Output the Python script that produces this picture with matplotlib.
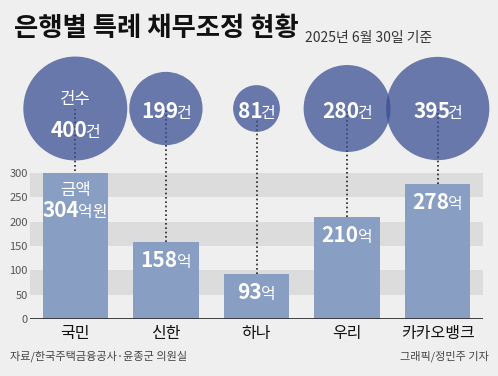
import matplotlib
matplotlib.use("Agg")
import matplotlib.pyplot as plt
from matplotlib.transforms import offset_copy

plt.rcParams["font.family"] = ["Noto Sans CJK KR", "DejaVu Sans"]

banks = ["국민", "신한", "하나", "우리", "카카오뱅크"]
amounts = [304, 158, 93, 210, 278]      # 억원
counts = [400, 199, 81, 280, 395]       # 건
yticks = [0, 50, 100, 150, 200, 250, 300]
bands = [(50, 100), (150, 200), (250, 300)]

BG = "#efefef"
BAND = "#dcdcdc"
BAR = "#889ec2"
BUBBLE = "#3a4e92"
BUBBLE_Y = 432.5      # data units, above the plot area

fig = plt.figure(figsize=(4.98, 3.76), dpi=100, facecolor=BG)
ax = fig.add_axes([30 / 498, 57 / 376, 453 / 498, 146 / 376])
ax.set_facecolor(BG)
for s in ax.spines.values():
    s.set_visible(False)
ax.set_xlim(-0.5, 4.5)
ax.set_ylim(0, 300)

for lo, hi in bands:
    ax.axhspan(lo, hi, color=BAND, lw=0, zorder=0)
ax.axhline(0, color="#333333", lw=1.3, zorder=4)

xs = list(range(len(banks)))
ax.bar(xs, amounts, width=0.72, color=BAR, zorder=2)

# dotted leaders from bar top up to the bubble
for x, v in zip(xs, amounts):
    ax.plot([x, x], [v, BUBBLE_Y], ls=(0, (1, 1.6)), color="#222222",
            lw=1.2, clip_on=False, zorder=1.5)

ax.scatter(xs, [BUBBLE_Y] * len(xs), s=[14 * c for c in counts],
           color=BUBBLE, alpha=0.74, edgecolors="none", clip_on=False,
           zorder=3)

ax.set_yticks(yticks)
ax.set_yticklabels([str(t) for t in yticks], fontsize=8, color="#555555")
ax.set_xticks(xs)
ax.set_xticklabels(banks, fontsize=11.5, color="#111111")
ax.tick_params(axis="y", length=0, pad=1.5)
ax.tick_params(axis="x", length=0, pad=4)

renderer = fig.canvas.get_renderer()


def mixed_text(x, y, parts, dy=0.0, kern=0.0, color="white"):
    """Centre a run of differently sized pieces at (x, y), baseline shifted dy px."""
    texts = []
    for s, size, weight in parts:
        t = ax.text(x, y, s, fontsize=size, fontweight=weight, color=color,
                    ha="left", va="baseline", clip_on=False, zorder=6)
        texts.append(t)
    widths = [t.get_window_extent(renderer).width for t in texts]
    widths = [w + (kern if k < len(widths) - 1 else 0) for k, w in enumerate(widths)]
    x0 = -sum(widths) / 2
    for t, w in zip(texts, widths):
        t.set_transform(offset_copy(ax.transData, fig, x=x0, y=dy, units="dots"))
        x0 += w


# bubble labels
for i, (x, c) in enumerate(zip(xs, counts)):
    if i == 0:
        mixed_text(x, BUBBLE_Y, [("건수", 12, "normal")], dy=5)
        mixed_text(x, BUBBLE_Y, [(str(c), 15, "bold"), ("건", 11.5, "normal")],
                   dy=-28, kern=-3)
    else:
        mixed_text(x, BUBBLE_Y, [(str(c), 15, "bold"), ("건", 11.5, "normal")],
                   dy=-9, kern=-3)

# bar labels
for i, (x, v) in enumerate(zip(xs, amounts)):
    if i == 0:
        mixed_text(x, v, [("금액", 12, "normal")], dy=-24)
        mixed_text(x, v, [(str(v), 15, "bold"), ("억원", 11.5, "normal")],
                   dy=-46, kern=-1)
    else:
        mixed_text(x, v, [(str(v), 15, "bold"), ("억", 11.5, "normal")],
                   dy=-25, kern=-1)

fig.text(14 / 498, 1 - 36 / 376, "은행별 특례 채무조정 현황", fontsize=19,
         fontweight="bold", color="#111111", ha="left", va="baseline")
fig.text(305 / 498, 1 - 42 / 376, "2025년 6월 30일 기준", fontsize=10,
         color="#333333", ha="left", va="baseline")
fig.text(10 / 498, 1 - 360 / 376, "자료/한국주택금융공사·윤종군 의원실",
         fontsize=8, color="#444444", ha="left", va="baseline")
fig.text(489 / 498, 1 - 360 / 376, "그래픽/정민주 기자",
         fontsize=8, color="#444444", ha="right", va="baseline")

fig.savefig("out.png", dpi=100, facecolor=BG)
